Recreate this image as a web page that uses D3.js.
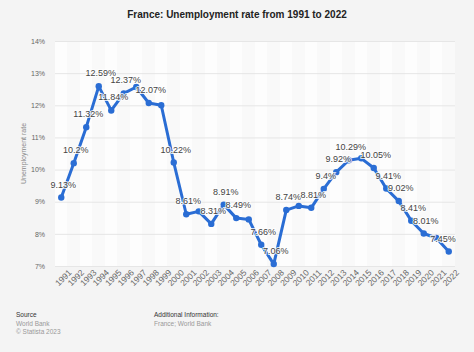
<!DOCTYPE html>
<html>
<head>
<meta charset="utf-8">
<script src="https://cdn.jsdelivr.net/npm/d3@7"></script>
<style>
  body { margin: 0; background: #f4f4f4; }
  svg { display: block; font-family: "Liberation Sans", Arial, sans-serif; }
</style>
</head>
<body>
<div id="chart"></div>
<script>
var years = ["1991","1992","1993","1994","1995","1996","1997","1998","1999","2000",
             "2001","2002","2003","2004","2005","2006","2007","2008","2009","2010",
             "2011","2012","2013","2014","2015","2016","2017","2018","2019","2020",
             "2021","2022"];
var rates = [9.13, 10.2, 11.32, 12.59, 11.84, 12.37, 12.57, 12.07, 12.0, 10.22,
             8.61, 8.7, 8.31, 8.91, 8.49, 8.45, 7.66, 7.06, 8.74, 8.87,
             8.81, 9.4, 9.92, 10.29, 10.35, 10.05, 9.41, 9.02, 8.41, 8.01,
             7.87, 7.45];
// which points get a value label (the others are hidden in the original)
var labelled = ["1991","1992","1993","1994","1995","1996","1998","2000","2001","2003",
                "2004","2005","2007","2008","2009","2011","2012","2013","2014","2016",
                "2017","2018","2019","2020","2022"];
var yTicks = [7, 8, 9, 10, 11, 12, 13, 14];

function plotChart(containerId) {
    var WIDTH = 474;
    var HEIGHT = 352;
    var MARGINS = {top: 41, right: 19, bottom: 86, left: 55};
    var BLUE = "#2a6dd4";

    var data = years.map(function(y, i) { return {year: y, value: rates[i]}; });

    var svg = d3.select("#" + containerId).append("svg")
        .attr("width", WIDTH)
        .attr("height", HEIGHT);

    svg.append("rect")
        .attr("width", WIDTH).attr("height", HEIGHT)
        .attr("fill", "#f4f4f4");

    var xScale = d3.scaleBand().domain(years)
        .range([MARGINS.left, WIDTH - MARGINS.right]).padding(0);
    var yScale = d3.scaleLinear().domain([7, 14])
        .range([266, MARGINS.top]);
    var cx = function(d) { return xScale(d.year) + xScale.bandwidth() / 2; };

    // alternating column bands
    svg.append("g").selectAll("rect")
        .data(years)
        .enter().append("rect")
        .attr("x", function(d) { return xScale(d); })
        .attr("y", yScale(14))
        .attr("width", xScale.bandwidth())
        .attr("height", yScale(7) - yScale(14))
        .attr("fill", function(d, i) { return i % 2 ? "#f9f9f9" : "#fdfdfd"; });

    // grid lines + y labels
    var yAxis = d3.axisLeft(yScale)
        .tickValues(yTicks)
        .tickSize(-(WIDTH - MARGINS.right - MARGINS.left))
        .tickPadding(10)
        .tickFormat(function(d) { return d + "%"; });

    var gy = svg.append("g")
        .attr("transform", "translate(" + MARGINS.left + ",0)")
        .call(yAxis);
    gy.select(".domain").remove();
    gy.selectAll("line").attr("stroke", "#e6e6e6").attr("stroke-width", 1);
    gy.selectAll("text").attr("fill", "#666").style("font-size", "7px");

    // x axis labels, rotated
    var xAxis = d3.axisBottom(xScale).tickSize(0).tickPadding(6);
    var gx = svg.append("g")
        .attr("transform", "translate(0," + yScale(7) + ")")
        .call(xAxis);
    gx.select(".domain").remove();
    gx.selectAll("text")
        .attr("fill", "#666")
        .style("font-size", "8.5px")
        .attr("text-anchor", "end")
        .attr("dx", "0.3em")
        .attr("dy", "0.8em")
        .attr("transform", "rotate(-45)");

    svg.append("text")
        .attr("transform", "translate(26," + ((yScale(7) + yScale(14)) / 2) + ") rotate(-90)")
        .attr("text-anchor", "middle")
        .attr("fill", "#888")
        .style("font-size", "7px")
        .text("Unemployment rate");

    var line = d3.line()
        .x(cx)
        .y(function(d) { return yScale(d.value); });

    svg.append("path")
        .datum(data)
        .attr("d", line)
        .style("fill", "none")
        .style("stroke", BLUE)
        .style("stroke-width", 3)
        .style("stroke-linejoin", "round");

    svg.append("g").selectAll("circle")
        .data(data)
        .enter().append("circle")
        .attr("cx", cx)
        .attr("cy", function(d) { return yScale(d.value); })
        .attr("r", 3.2)
        .style("fill", BLUE);

    svg.append("g").selectAll("text")
        .data(data.filter(function(d) { return labelled.indexOf(d.year) >= 0; }))
        .enter().append("text")
        .attr("x", function(d) { return Math.min(cx(d) + 2, 443); })
        .attr("y", function(d) { return yScale(d.value) - 10; })
        .attr("text-anchor", "middle")
        .attr("fill", "#444")
        .attr("stroke", "#fff")
        .attr("stroke-width", 2)
        .attr("stroke-opacity", 0.8)
        .attr("paint-order", "stroke")
        .style("font-size", "9px")
        .text(function(d) { return d.value + "%"; });

    svg.append("text")
        .attr("x", WIDTH / 2).attr("y", 18)
        .attr("text-anchor", "middle")
        .attr("fill", "#222")
        .style("font-size", "10px")
        .style("font-weight", "bold")
        .text("France: Unemployment rate from 1991 to 2022");

    // footer
    var foot = svg.append("g").style("font-size", "6.5px");
    foot.append("text").attr("x", 16).attr("y", 317).attr("fill", "#333").text("Source");
    foot.append("text").attr("x", 16).attr("y", 326).attr("fill", "#999").text("World Bank");
    foot.append("text").attr("x", 16).attr("y", 334).attr("fill", "#999").text("© Statista 2023");
    foot.append("text").attr("x", 154).attr("y", 317).attr("fill", "#333").text("Additional Information:");
    foot.append("text").attr("x", 154).attr("y", 326).attr("fill", "#999").text("France; World Bank");
}

plotChart("chart");
</script>
</body>
</html>
